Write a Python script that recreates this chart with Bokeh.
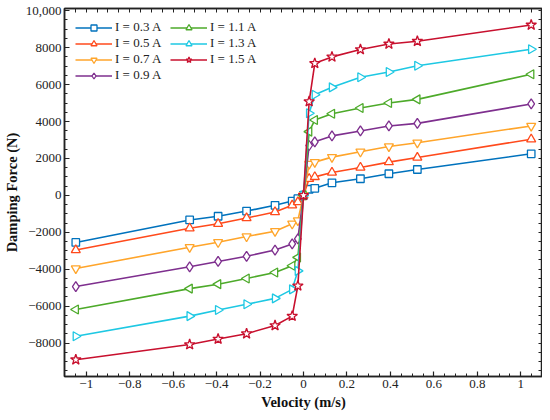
import numpy as np
from bokeh.plotting import figure
from bokeh.models import LinearAxis, FixedTicker, Range1d, Legend, LegendItem
from bokeh.embed import file_html
from bokeh.resources import INLINE

# ---------------- data ----------------
velocity = [-1.048, -0.524, -0.393, -0.262, -0.131, -0.052, -0.026, 0.0,
            0.026, 0.052, 0.131, 0.262, 0.393, 0.524, 1.048]

f_03 = [-2550, -1330, -1130, -850, -540, -310, -180, 0, 330, 380, 680, 900, 1170, 1400, 2250]
f_05 = [-2960, -1780, -1540, -1230, -900, -540, -360, 0, 900, 1000, 1240, 1510, 1800, 2050, 3040]
f_07 = [-3960, -2810, -2540, -2230, -1940, -1540, -1360, 0, 1700, 1800, 2070, 2360, 2650, 2850, 3760]
f_09 = [-4940, -3870, -3580, -3300, -2960, -2630, -2360, 0, 2700, 2900, 3220, 3490, 3760, 3900, 4950]
f_11 = [-6180, -5050, -4810, -4500, -4180, -3810, -3360, 0, 3450, 4080, 4420, 4730, 5000, 5200, 6560]
f_13 = [-7630, -6540, -6210, -5900, -5580, -5090, -4090, 0, 4450, 5450, 5850, 6400, 6680, 7020, 7915]
f_15 = [-8900, -8080, -7780, -7490, -7050, -6540, -4900, 0, 5080, 7150, 7500, 7900, 8200, 8350, 9230]

series_labels = ["I = 0.3 A", "I = 0.5 A", "I = 0.7 A", "I = 0.9 A",
                 "I = 1.1 A", "I = 1.3 A", "I = 1.5 A"]
series_values = [f_03, f_05, f_07, f_09, f_11, f_13, f_15]

x_ticks = [-1.0, -0.8, -0.6, -0.4, -0.2, 0.0, 0.2, 0.4, 0.6, 0.8, 1.0]
x_tick_labels = ["\u22121", "\u22120.8", "\u22120.6", "\u22120.4", "\u22120.2", "0",
                 "0.2", "0.4", "0.6", "0.8", "1"]
y_ticks = [-8000, -6000, -4000, -2000, 0, 2000, 4000, 6000, 8000, 10000]
y_tick_labels = ["\u22128000", "\u22126000", "\u22124000", "\u22122000", "0",
                 "2000", "4000", "6000", "8000", "10,000"]

# ---------------- styles ----------------
colors = ["#0072BD", "#FF4A1C", "#FFA52B", "#7E2F8E", "#4DAA2A", "#1EC8E3", "#C8102E"]
markers = ["square", "triangle", "inverted_triangle", "diamond", "triangle", "triangle", "star"]
angles = [0, 0, 0, 0, np.pi / 2, -np.pi / 2, 0]
sizes = [7.5, 9, 9, 10, 9, 9, 11]

FONT = "Liberation Serif"
INK = "#222222"

p = figure(width=542, height=412,
           x_range=Range1d(-1.1, 1.1), y_range=Range1d(-9810, 10120),
           output_backend="svg", toolbar_location=None,
           min_border_left=64, min_border_right=0, min_border_top=8, min_border_bottom=10)
p.xgrid.visible = False
p.ygrid.visible = False
p.outline_line_color = INK
p.outline_line_width = 1.5
p.background_fill_color = "white"
p.border_fill_color = "white"

x_minor = [round(v, 2) for v in np.arange(-1.1, 1.1001, 0.05)]
y_minor = list(range(-9500, 10001, 500))


def base_style(ax):
    ax.major_tick_in = 5
    ax.major_tick_out = 0
    ax.minor_tick_in = 3
    ax.minor_tick_out = 0
    ax.major_tick_line_color = INK
    ax.minor_tick_line_color = INK
    ax.major_tick_line_width = 1.2
    ax.minor_tick_line_width = 1.0
    ax.axis_line_color = INK
    ax.axis_line_width = 1.5


def style_main(ax, ticks, minor, labels):
    base_style(ax)
    ax.ticker = FixedTicker(ticks=ticks, minor_ticks=minor)
    ax.major_label_overrides = {t: l for t, l in zip(ticks, labels)}
    ax.major_label_text_font = FONT
    ax.major_label_text_font_size = "13px"
    ax.major_label_text_color = INK
    ax.major_label_standoff = 3
    ax.axis_label_text_font = FONT
    ax.axis_label_text_font_size = "14.5px"
    ax.axis_label_text_font_style = "bold"
    ax.axis_label_text_color = "#111111"
    ax.axis_label_standoff = 3


def style_mirror(ax, ticks, minor):
    # mirror axis: ticks only, no labels
    base_style(ax)
    ax.ticker = FixedTicker(ticks=[], minor_ticks=sorted(set(minor) | set(ticks)))
    ax.minor_tick_in = 4
    ax.axis_label = None


p.xaxis.axis_label = "Velocity (m/s)"
p.yaxis.axis_label = "Damping Force (N)"
style_main(p.xaxis[0], x_ticks, x_minor, x_tick_labels)
style_main(p.yaxis[0], y_ticks, y_minor, y_tick_labels)

top_ax = LinearAxis()
right_ax = LinearAxis()
style_mirror(top_ax, x_ticks, x_minor)
style_mirror(right_ax, y_ticks, y_minor)
p.add_layout(top_ax, "above")
p.add_layout(right_ax, "right")

items = []
for lab, vals, c, m, a, s in zip(series_labels, series_values, colors, markers, angles, sizes):
    lr = p.line(velocity, vals, line_color=c, line_width=1.6)
    sr = p.scatter(velocity, vals, marker=m, angle=a, size=s, line_color=c,
                   fill_color="white", line_width=1.3)
    items.append(LegendItem(label=lab, renderers=[lr, sr]))

legend = Legend(items=items, location="top_left", orientation="vertical", nrows=4)
legend.border_line_color = None
legend.background_fill_alpha = 0
legend.label_text_font = FONT
legend.label_text_font_size = "13px"
legend.label_text_color = INK
legend.glyph_width = 37
legend.glyph_height = 15
legend.label_height = 15
legend.label_width = 55
legend.label_standoff = 3
legend.spacing = 0
legend.padding = 4
legend.margin = 11
p.add_layout(legend)

open("out.html", "w").write(file_html(p, INLINE))
